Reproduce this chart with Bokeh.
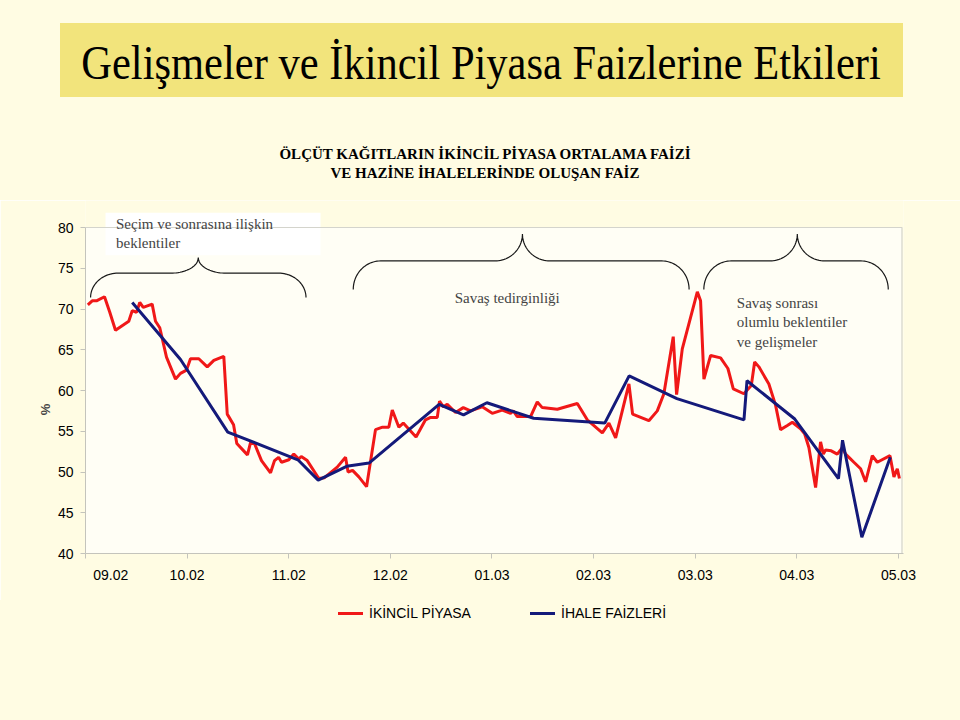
import numpy as np
from bokeh.plotting import figure
from bokeh.layouts import column
from bokeh.models import (Label, BoxAnnotation, FixedTicker, Range1d, Div)
from bokeh.embed import file_html
from bokeh.resources import INLINE

# ---------------- data ----------------
month_labels = ["09.02", "10.02", "11.02", "12.02", "01.03", "02.03", "03.03", "04.03", "05.03"]
y_ticks = [40, 45, 50, 55, 60, 65, 70, 75, 80]

# time in months since start of 09.02
ikincil_t = [0.023, 0.066, 0.108, 0.187, 0.239, 0.295, 0.426, 0.460, 0.502, 0.534, 0.568, 0.656,
             0.689, 0.731, 0.797, 0.886, 0.935, 0.994, 1.033, 1.115, 1.198, 1.263, 1.361, 1.395,
             1.457, 1.489, 1.594, 1.624, 1.663, 1.732, 1.821, 1.860, 1.900, 1.929, 2.001, 2.050,
             2.099, 2.123, 2.182, 2.296, 2.352, 2.477, 2.559, 2.584, 2.628, 2.690, 2.766, 2.854,
             2.923, 2.985, 3.019, 3.084, 3.127, 3.253, 3.346, 3.396, 3.462, 3.484, 3.521, 3.560,
             3.642, 3.718, 3.789, 3.904, 4.003, 4.101, 4.183, 4.210, 4.249, 4.380, 4.446, 4.495,
             4.643, 4.840, 4.938, 5.086, 5.151, 5.217, 5.348, 5.384, 5.544, 5.627, 5.692, 5.784,
             5.817, 5.873, 6.021, 6.053, 6.086, 6.152, 6.250, 6.322, 6.375, 6.479, 6.552, 6.585,
             6.627, 6.725, 6.791, 6.840, 6.907, 6.956, 7.037, 7.077, 7.119, 7.185, 7.234, 7.261,
             7.283, 7.339, 7.398, 7.448, 7.480, 7.513, 7.562, 7.628, 7.677, 7.743, 7.792, 7.917,
             7.956, 7.989, 8.010]
ikincil_v = [70.5, 71.0, 71.0, 71.5, 69.6, 67.4, 68.5, 69.8, 69.6, 70.8, 70.2, 70.6,
             68.5, 67.7, 64.1, 61.4, 62.1, 62.5, 63.9, 63.9, 62.9, 63.7, 64.2, 57.1,
             55.8, 53.5, 52.1, 53.6, 53.5, 51.4, 49.9, 51.4, 51.8, 51.2, 51.5, 52.2,
             51.6, 51.9, 51.4, 49.2, 49.3, 50.6, 51.8, 50.0, 50.2, 49.4, 48.2, 55.2,
             55.5, 55.5, 57.6, 55.5, 56.0, 54.3, 56.4, 56.7, 56.7, 58.7, 58.0, 58.3,
             57.3, 57.9, 57.5, 58.0, 57.2, 57.6, 57.2, 57.5, 56.8, 56.8, 58.6, 57.9,
             57.7, 58.4, 56.4, 54.8, 56.0, 54.2, 60.8, 57.1, 56.3, 57.5, 59.6, 66.6,
             59.5, 65.1, 72.1, 71.0, 61.4, 64.3, 64.0, 62.7, 60.2, 59.6, 60.6, 63.5,
             62.9, 60.8, 58.2, 55.2, 55.7, 56.1, 55.3, 54.7, 53.0, 48.1, 53.7, 52.2,
             52.7, 52.6, 52.2, 53.0, 52.2, 51.8, 51.2, 50.4, 48.8, 52.0, 51.2, 52.0,
             49.4, 50.4, 49.2]

ihale_t = [0.46, 0.935, 1.40, 2.09, 2.29, 2.57, 2.79, 3.48, 3.72, 3.95, 4.41, 5.11,
           5.35, 5.82, 6.48, 6.51, 6.98, 7.41, 7.45, 7.64, 7.92]
ihale_v = [70.8, 63.8, 54.9, 51.5, 49.0, 50.7, 51.1, 58.3, 57.0, 58.5, 56.6, 56.0,
           61.8, 59.0, 56.4, 61.2, 56.5, 49.2, 53.9, 42.0, 51.8]

series_names = ["İKİNCİL PİYASA", "İHALE FAİZLERİ"]
series_colors = ["#F01818", "#141A7A"]

# annotated periods: (start, tip, end) in months
periods = [(0.05, 1.11, 2.17), (2.635, 4.30, 5.94), (6.085, 7.005, 7.90)]
period_levels = [(71.4, 74.4, 76.3), (72.4, 75.9, 79.2), (72.4, 75.9, 79.2)]

title_text = "Gelişmeler ve İkincil Piyasa Faizlerine Etkileri"
subtitle_lines = ["ÖLÇÜT KAĞITLARIN İKİNCİL PİYASA ORTALAMA FAİZİ",
                  "VE HAZİNE İHALELERİNDE OLUŞAN FAİZ"]

# ---------------- styling ----------------
PAGE = "#FFFCE3"
PLOT_BG = "#FFFEF5"
serif = "Liberation Serif"
sans = "Liberation Sans"
W = 960
TOP_H = 200
CH_H = 400
LEG_H = 120

# ---------------- header (HTML text) ----------------
header_html = f"""
<div style="position:relative;width:{W}px;height:{TOP_H}px;background:{PAGE};margin:0;padding:0;overflow:hidden;">
  <div style="position:absolute;left:60px;top:23px;width:843px;height:74px;background:#F2E47C;"></div>
  <div style="position:absolute;left:0px;top:36px;width:962px;height:54px;text-align:center;
              font-family:'{serif}';font-size:48px;line-height:54px;color:#000;
              transform:scaleX(0.886);transform-origin:481px 0px;white-space:nowrap;">{title_text}</div>
  <div style="position:absolute;left:0px;top:145px;width:970px;text-align:center;
              font-family:'{serif}';font-size:15px;font-weight:bold;line-height:19px;color:#000;">
     {subtitle_lines[0]}<br>{subtitle_lines[1]}</div>
</div>
"""
header = Div(text=header_html, width=W, height=TOP_H, margin=0,
             styles={"background-color": PAGE, "margin": "0", "padding": "0"})

# ---------------- chart figure ----------------
X_END = 8.05
Y_TOP = 80 + 27 / 8.15

p = figure(width=W, height=CH_H, x_range=Range1d(0, X_END), y_range=Range1d(40, Y_TOP),
           output_backend="svg", toolbar_location=None, margin=0,
           min_border_left=85, min_border_right=57, min_border_top=0, min_border_bottom=CH_H - 353)
p.background_fill_color = PAGE
p.border_fill_color = PAGE
p.outline_line_color = None
p.xgrid.visible = False
p.ygrid.visible = False

# plot area
p.add_layout(BoxAnnotation(left=0, right=8.035, bottom=40, top=80, fill_color=PLOT_BG,
                           fill_alpha=1, line_color=None, level="underlay"))
p.line([0, 8.035, 8.035], [80, 80, 40], line_color="#D4D4CC", line_width=1.2)

p.yaxis.ticker = FixedTicker(ticks=y_ticks)
p.yaxis.bounds = (40, 80)
p.xaxis.ticker = FixedTicker(ticks=list(range(len(month_labels))))
overrides = {i: lab for i, lab in enumerate(month_labels)}
overrides[0] = "\u00a0" * 13 + month_labels[0]
p.xaxis.major_label_overrides = overrides
for ax in (p.xaxis, p.yaxis):
    ax.axis_line_color = "#C4C4BC"
    ax.major_tick_line_color = "#C4C4BC"
    ax.major_tick_out = 5
    ax.major_tick_in = 0
    ax.minor_tick_line_color = None
    ax.major_label_text_font = sans
    ax.major_label_text_font_size = "14px"
    ax.major_label_text_color = "#000000"
p.xaxis.major_label_standoff = 8
p.yaxis.major_label_standoff = 7
p.yaxis.axis_label = "%" + "\u00a0" * 18
p.yaxis.axis_label_text_font = sans
p.yaxis.axis_label_text_font_style = "bold"
p.yaxis.axis_label_text_font_size = "13px"
p.yaxis.axis_label_standoff = 2

p.line(ikincil_t, ikincil_v, line_color=series_colors[0], line_width=3)
p.line(ihale_t, ihale_v, line_color=series_colors[1], line_width=3)

def brace(t0, tm, t1, y_end, y_h, y_tip, rx=0.27, n=24):
    th = np.linspace(0, np.pi / 2, n)
    xs = np.concatenate([t0 + rx - rx * np.cos(th), tm - rx + rx * np.sin(th),
                         tm + rx - rx * np.sin(th[::-1]), t1 - rx + rx * np.cos(th[::-1])])
    ys = np.concatenate([y_end + (y_h - y_end) * np.sin(th), y_tip - (y_tip - y_h) * np.cos(th),
                         y_tip - (y_tip - y_h) * np.cos(th[::-1]), y_end + (y_h - y_end) * np.sin(th[::-1])])
    return xs, ys

for (t0, tm, t1), (ye, yh, yt) in zip(periods, period_levels):
    bx, by = brace(t0, tm, t1, ye, yh, yt)
    p.line(bx, by, line_color="#1A1A1A", line_width=1.2)

# white text box of first annotation
p.add_layout(BoxAnnotation(left=0.197, right=2.313, bottom=76.6, top=81.8,
                           fill_color="#FFFFFF", fill_alpha=1, line_color=None, level="underlay"))
p.add_layout(Label(x=0.30, y=81.4, text="Seçim ve sonrasına ilişkin\nbeklentiler",
                   text_font=serif, text_font_size="15px", text_baseline="top",
                   text_line_height=1.2))
p.add_layout(Label(x=4.15, y=71.4, text="Savaş tedirginliği", text_font=serif,
                   text_font_size="15px", text_align="center", text_baseline="middle"))
p.add_layout(Label(x=6.41, y=71.7, text="Savaş sonrası\nolumlu beklentiler\nve gelişmeler",
                   text_font=serif, text_font_size="15px", text_baseline="top",
                   text_line_height=1.2))

# ---------------- legend (HTML) ----------------
leg_items = ""
for name, col, lx in zip(series_names, series_colors, [338, 530]):
    leg_items += (f'<div style="position:absolute;left:{lx}px;top:12px;width:25px;height:3px;background:{col};"></div>'
                  f'<div style="position:absolute;left:{lx + 31}px;top:4px;font-family:\'{sans}\';'
                  f'font-size:14px;line-height:18px;color:#000;white-space:nowrap;">{name}</div>')
legend_div = Div(text=f'<div style="position:relative;width:{W}px;height:{LEG_H}px;background:{PAGE};">{leg_items}</div>',
                 width=W, height=LEG_H, margin=0,
                 styles={"background-color": PAGE, "margin": "0", "padding": "0"})

layout = column(header, p, legend_div, spacing=0)
open("out.html", "w").write(file_html(layout, INLINE))
